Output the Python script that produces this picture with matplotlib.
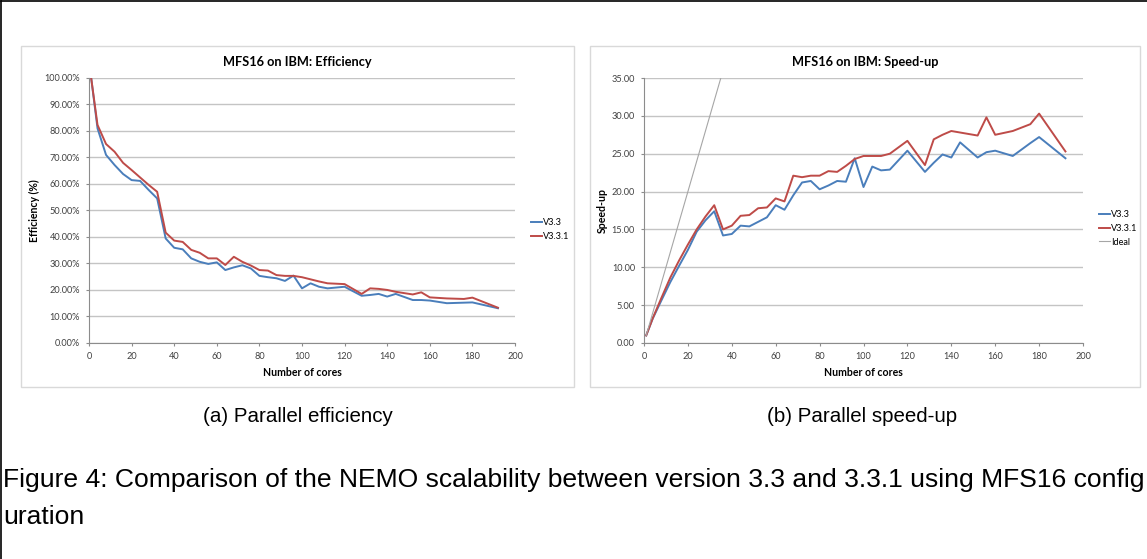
import matplotlib.pyplot as plt
import matplotlib as mpl
from matplotlib.patches import Rectangle
from matplotlib.lines import Line2D
from matplotlib.ticker import FuncFormatter, MultipleLocator

# %% data
cores = [1, 4, 8, 12, 16, 20, 24, 28, 32, 36, 40, 44, 48, 52, 56, 60, 64, 68, 72, 76,
         80, 84, 88, 92, 96, 100, 104, 108, 112, 120, 128, 132, 136, 140, 144, 152,
         156, 160, 168, 176, 180, 192]

eff_v33 = [100.0, 80.9, 70.9, 67.1, 63.7, 61.4, 61.1, 57.7, 54.5, 39.4, 35.9, 35.3,
           31.9, 30.6, 29.8, 30.4, 27.5, 28.5, 29.3, 28.1, 25.3, 24.8, 24.4, 23.4,
           25.4, 20.6, 22.5, 21.2, 20.6, 21.2, 17.8, 18.1, 18.5, 17.5, 18.5, 16.2,
           16.2, 16.0, 15.0, 15.2, 15.3, 13.1]
eff_v331 = [100.0, 82.2, 75.0, 72.1, 67.9, 65.2, 62.4, 59.6, 57.0, 41.6, 38.6, 38.1,
            35.1, 34.0, 31.9, 31.9, 29.4, 32.5, 30.6, 29.2, 27.5, 27.3, 25.6, 25.3,
            25.3, 24.8, 24.0, 23.2, 22.5, 22.2, 18.5, 20.6, 20.4, 20.0, 19.3, 18.3,
            19.1, 17.2, 16.8, 16.6, 17.1, 13.3]

spd_v33 = [1.0, 3.24, 5.67, 8.05, 10.2, 12.3, 14.7, 16.2, 17.4, 14.2, 14.4, 15.5,
           15.4, 16.0, 16.6, 18.2, 17.6, 19.5, 21.2, 21.4, 20.3, 20.8, 21.4, 21.3,
           24.4, 20.6, 23.3, 22.8, 22.9, 25.4, 22.6, 23.8, 24.9, 24.5, 26.5, 24.5,
           25.2, 25.4, 24.7, 26.4, 27.2, 24.4]
spd_v331 = [1.0, 3.29, 6.0, 8.65, 10.9, 13.0, 15.0, 16.7, 18.2, 15.0, 15.5, 16.8,
            16.9, 17.8, 17.9, 19.1, 18.7, 22.1, 21.9, 22.1, 22.1, 22.7, 22.6, 23.4,
            24.3, 24.7, 24.7, 24.7, 25.0, 26.7, 23.5, 26.9, 27.5, 28.0, 27.8, 27.4,
            29.8, 27.5, 28.0, 28.9, 30.3, 25.3]
ideal_speedup = cores  # ideal speed-up = number of cores

series_names = ['V3.3', 'V3.3.1']
ideal_name = 'Ideal'

# %% style
W, H = 1147, 559
blue, red, grey_ideal = '#4a7ebb', '#be4b48', '#a6a6a6'
grid_c, axis_c, txt_c = '#c4c4c4', '#8c8c8c', '#404040'
chart_font = ['Lato', 'DejaVu Sans']
cap_font = ['Liberation Sans', 'DejaVu Sans']
mpl.rc('font', family=chart_font, size=6.6)

fig = plt.figure(figsize=(W / 100, H / 100), dpi=100)


def fx(px):
    return px / W


def fy(py):
    return 1 - py / H


# page frame (black lines on top and left)
fig.add_artist(Line2D([fx(1), fx(W)], [fy(1), fy(1)], color='black', lw=1.2))
fig.add_artist(Line2D([fx(1), fx(1)], [fy(1), fy(H)], color='black', lw=1.2))

# chart boxes
for x0, x1 in [(21, 574), (590, 1140)]:
    fig.add_artist(Rectangle((fx(x0), fy(387)), fx(x1 - x0), (387 - 46) / H,
                             transform=fig.transFigure, facecolor='white',
                             edgecolor='#d9d9d9', lw=1.0, zorder=0))


def style_axes(ax, ymax, ystep, fmt):
    ax.set_xlim(0, 200)
    ax.set_ylim(0, ymax)
    ax.xaxis.set_major_locator(MultipleLocator(20))
    ax.yaxis.set_major_locator(MultipleLocator(ystep))
    ax.yaxis.set_major_formatter(FuncFormatter(fmt))
    ax.grid(axis='y', color=grid_c, lw=1.0)
    ax.set_axisbelow(True)
    for s in ['top', 'right']:
        ax.spines[s].set_visible(False)
    for s in ['left', 'bottom']:
        ax.spines[s].set_color(axis_c)
        ax.spines[s].set_linewidth(0.8)
    ax.tick_params(direction='out', length=2.5, width=0.8, color=axis_c,
                   labelsize=6.6, labelcolor=txt_c, pad=4)
    ax.set_xlabel('Number of cores', fontsize=7.6, fontweight='bold', labelpad=4)


# %% efficiency
ax1 = fig.add_axes([fx(89), fy(343), fx(426), 265.3 / H])
ax1.plot(cores, eff_v33, color=blue, lw=1.4, label=series_names[0])
ax1.plot(cores, eff_v331, color=red, lw=1.4, label=series_names[1])
style_axes(ax1, 100, 10, lambda v, p: f'{v:.2f}%')
ax1.set_ylabel('Efficiency (%)', fontsize=7.6, fontweight='bold', labelpad=3)
ax1.legend(loc='center left', bbox_to_anchor=(fx(531), fy(229.5)),
           bbox_transform=fig.transFigure, frameon=False, fontsize=6.6,
           handlelength=1.2, handletextpad=0.15, labelspacing=0.5,
           borderpad=0, borderaxespad=0)
fig.text(fx(297.5), fy(62), 'MFS16 on IBM: Efficiency', ha='center', va='center',
         fontsize=9.2, fontweight='bold')

# %% speed-up
ax2 = fig.add_axes([fx(644), fy(343), fx(439), 265 / H])
ax2.plot(cores, spd_v33, color=blue, lw=1.4, label=series_names[0])
ax2.plot(cores, spd_v331, color=red, lw=1.4, label=series_names[1])
ax2.plot(cores, ideal_speedup, color=grey_ideal, lw=0.8, label=ideal_name)
style_axes(ax2, 35, 5, lambda v, p: f'{v:.2f}')
ax2.set_ylabel('Speed-up', fontsize=7.6, fontweight='bold', labelpad=3)
ax2.legend(loc='center left', bbox_to_anchor=(fx(1099), fy(228.5)),
           bbox_transform=fig.transFigure, frameon=False, fontsize=6.6,
           handlelength=1.2, handletextpad=0.15, labelspacing=0.5,
           borderpad=0, borderaxespad=0)
fig.text(fx(865), fy(62), 'MFS16 on IBM: Speed-up', ha='center', va='center',
         fontsize=9.2, fontweight='bold')

# %% captions
fig.text(fx(298), fy(416), '(a) Parallel efficiency', ha='center', va='center',
         fontsize=14.8, family=cap_font)
fig.text(fx(862), fy(416), '(b) Parallel speed-up', ha='center', va='center',
         fontsize=14.8, family=cap_font)
fig.text(fx(3), fy(480), 'Figure 4: Comparison of the NEMO scalability between version 3.3 '
         'and 3.3.1 using MFS16 config', ha='left', va='center', fontsize=19.05,
         family=cap_font)
fig.text(fx(3), fy(517), 'uration', ha='left', va='center', fontsize=19.05,
         family=cap_font)

fig.savefig('out.png', dpi=100)
